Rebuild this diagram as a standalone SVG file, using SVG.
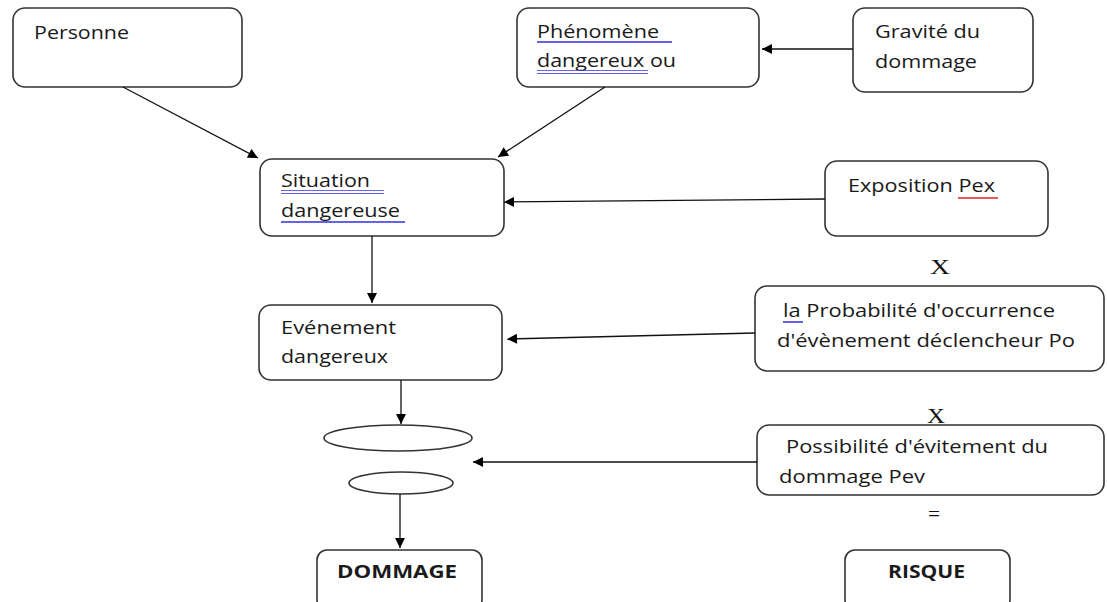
<svg xmlns="http://www.w3.org/2000/svg" width="1107" height="602" viewBox="0 0 1107 602">
<defs>
<marker id="arr" viewBox="0 0 10 10" refX="10" refY="5" markerWidth="11" markerHeight="10" markerUnits="userSpaceOnUse" orient="auto">
<path d="M0,0 L10,5 L0,10 z" fill="#000"/>
</marker>
<pattern id="wb" width="4" height="4" patternUnits="userSpaceOnUse">
<path d="M0,3 L1,1 L2,3 L3,1 L4,3" fill="none" stroke="#3b3bdc" stroke-width="1"/>
</pattern>
<pattern id="wr" width="4" height="4" patternUnits="userSpaceOnUse">
<path d="M0,3 L1,1 L2,3 L3,1 L4,3" fill="none" stroke="#e03030" stroke-width="1"/>
</pattern>
</defs>
<style>
.box{fill:#fff;stroke:#333;stroke-width:1.6}
.t{font-family:"Open Sans","Liberation Sans",sans-serif;font-size:18px;fill:#1a1a1a}
.b{font-family:"Open Sans","Liberation Sans",sans-serif;font-size:17px;font-weight:bold;fill:#1a1a1a}
.s{font-family:"Liberation Serif",serif;font-size:21px;fill:#111}
.c{fill:none;stroke:#111;stroke-width:1.3;marker-end:url(#arr)}
</style>
<rect width="1107" height="602" fill="#fff"/>
<g id="personne"><rect class="box" x="13" y="8" width="229" height="79" rx="12"/><text class="t" x="34" y="39" textLength="95" lengthAdjust="spacingAndGlyphs">Personne</text></g>
<g id="phenomene"><rect class="box" x="517" y="8" width="242" height="79" rx="12"/><text class="t" x="537" y="38" textLength="122" lengthAdjust="spacingAndGlyphs">Phénomène</text><text class="t" x="537" y="67" textLength="139" lengthAdjust="spacingAndGlyphs">dangereux ou</text><rect x="537" y="40" width="135" height="4" fill="url(#wb)"/><rect x="537" y="70" width="111" height="4" fill="url(#wb)"/></g>
<g id="gravite"><rect class="box" x="853" y="8" width="180" height="84" rx="12"/><text class="t" x="875" y="38" textLength="105" lengthAdjust="spacingAndGlyphs">Gravité du</text><text class="t" x="875" y="68" textLength="102" lengthAdjust="spacingAndGlyphs">dommage</text></g>
<g id="situation"><rect class="box" x="260" y="159" width="244" height="77" rx="12"/><text class="t" x="281" y="187" textLength="89" lengthAdjust="spacingAndGlyphs">Situation</text><text class="t" x="281" y="217" textLength="119" lengthAdjust="spacingAndGlyphs">dangereuse</text><rect x="281" y="190" width="103" height="4" fill="url(#wb)"/><rect x="281" y="220" width="124" height="4" fill="url(#wb)"/></g>
<g id="exposition"><rect class="box" x="825" y="161" width="223" height="75" rx="12"/><text class="t" x="848" y="192" textLength="147" lengthAdjust="spacingAndGlyphs">Exposition Pex</text><rect x="958" y="195" width="40" height="4" fill="url(#wr)"/></g>
<g id="evenement"><rect class="box" x="259" y="305" width="243" height="75" rx="12"/><text class="t" x="281" y="334" textLength="115" lengthAdjust="spacingAndGlyphs">Evénement</text><text class="t" x="281" y="363" textLength="107" lengthAdjust="spacingAndGlyphs">dangereux</text></g>
<g id="probabilite"><rect class="box" x="755" y="286" width="349" height="85" rx="12"/><text class="t" x="783" y="317" textLength="272" lengthAdjust="spacingAndGlyphs">la Probabilité d'occurrence</text><text class="t" x="777" y="347" textLength="298" lengthAdjust="spacingAndGlyphs">d'évènement déclencheur Po</text><rect x="783" y="319" width="20" height="4" fill="url(#wb)"/></g>
<g id="possibilite"><rect class="box" x="757" y="425" width="347" height="70" rx="12"/><text class="t" x="786" y="453" textLength="262" lengthAdjust="spacingAndGlyphs">Possibilité d'évitement du</text><text class="t" x="779" y="483" textLength="146" lengthAdjust="spacingAndGlyphs">dommage Pev</text></g>
<g id="dommage"><rect class="box" x="317" y="550" width="165" height="60" rx="10"/><text class="b" x="337" y="578" textLength="120" lengthAdjust="spacingAndGlyphs">DOMMAGE</text></g>
<g id="risque"><rect class="box" x="845" y="550" width="165" height="60" rx="10"/><text class="b" x="888" y="578" textLength="77" lengthAdjust="spacingAndGlyphs">RISQUE</text></g>
<g id="ellipse1"><ellipse class="box" cx="398" cy="438" rx="74" ry="13"/></g>
<g id="ellipse2"><ellipse class="box" cx="401" cy="483" rx="52" ry="11"/></g>
<g id="ops">
<text class="s" x="930" y="274" textLength="20" lengthAdjust="spacingAndGlyphs">X</text>
<text class="s" x="927" y="423" textLength="18" lengthAdjust="spacingAndGlyphs">X</text>
<text class="s" x="928" y="521" textLength="12" lengthAdjust="spacingAndGlyphs">=</text>
</g>
<g id="connectors">
<line class="c" x1="123" y1="87" x2="258" y2="158"/>
<line class="c" x1="605" y1="87" x2="498" y2="157"/>
<line class="c" x1="853" y1="49" x2="762" y2="49"/>
<line class="c" x1="825" y1="199" x2="504" y2="202"/>
<line class="c" x1="372" y1="236" x2="372" y2="303"/>
<line class="c" x1="755" y1="333" x2="507" y2="339"/>
<line class="c" x1="401" y1="380" x2="401" y2="424"/>
<line class="c" x1="757" y1="462" x2="473" y2="462"/>
<line class="c" x1="400" y1="494" x2="400" y2="548"/>
</g>
</svg>
